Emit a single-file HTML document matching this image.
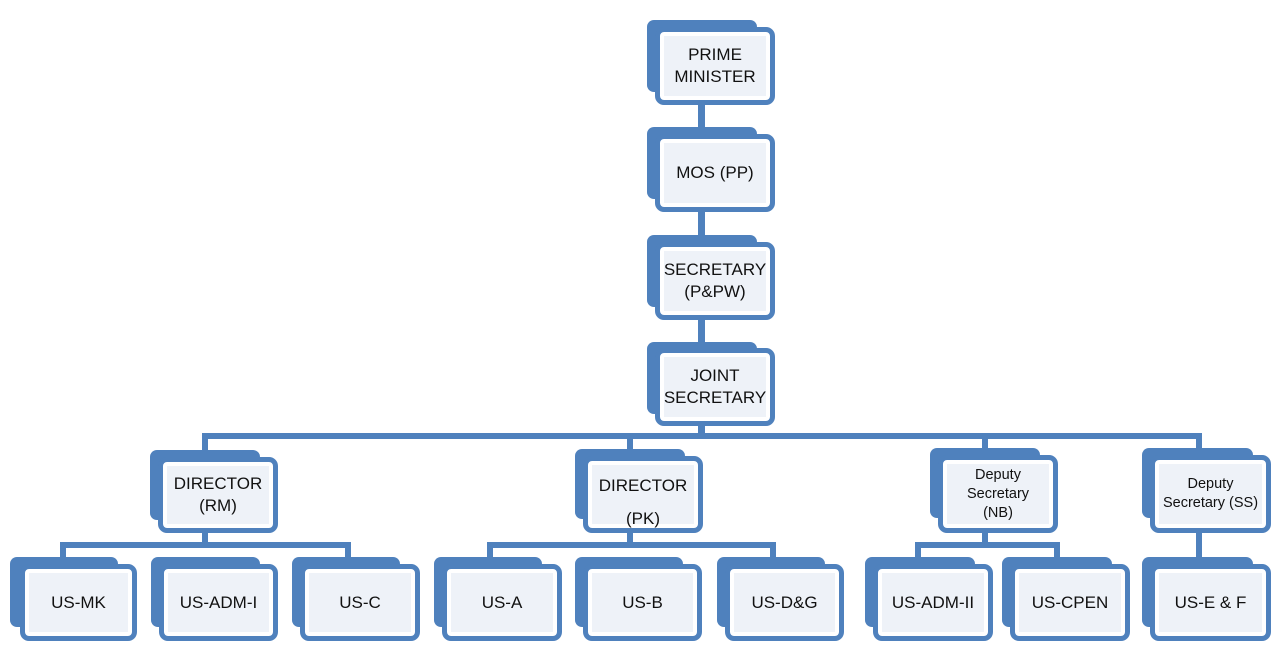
<!DOCTYPE html>
<html><head><meta charset="utf-8"><style>
html,body{margin:0;padding:0;background:#fff;}
body{width:1271px;height:650px;position:relative;overflow:hidden;font-family:"Liberation Sans",sans-serif;}
.b{position:absolute;background:#4f81bd;border-radius:7px;}
.f{position:absolute;box-sizing:border-box;border:5px solid #4f81bd;border-radius:9px;background:#eef2f8;box-shadow:inset 0 0 0 4px #fff;display:flex;align-items:center;justify-content:center;text-align:center;font-size:17px;line-height:22px;color:#111;}
.s{font-size:14.5px;line-height:19px;}
.l{position:absolute;background:#4f81bd;}
</style></head><body>
<!-- connectors -->
<div class="l" style="left:698px;top:100px;width:7px;height:30px"></div>
<div class="l" style="left:698px;top:208px;width:7px;height:30px"></div>
<div class="l" style="left:698px;top:316px;width:7px;height:30px"></div>
<div class="l" style="left:698px;top:420px;width:7px;height:16px"></div>
<div class="l" style="left:202px;top:433px;width:1000px;height:6px"></div>
<div class="l" style="left:202px;top:433px;width:6px;height:18px"></div>
<div class="l" style="left:627px;top:433px;width:6px;height:16px"></div>
<div class="l" style="left:982px;top:433px;width:6px;height:16px"></div>
<div class="l" style="left:1196px;top:433px;width:6px;height:16px"></div>

<div class="l" style="left:202px;top:528px;width:6px;height:20px"></div>
<div class="l" style="left:60px;top:542px;width:291px;height:6px"></div>
<div class="l" style="left:60px;top:542px;width:6px;height:16px"></div>
<div class="l" style="left:345px;top:542px;width:6px;height:16px"></div>

<div class="l" style="left:627px;top:528px;width:6px;height:20px"></div>
<div class="l" style="left:487px;top:542px;width:289px;height:6px"></div>
<div class="l" style="left:487px;top:542px;width:6px;height:16px"></div>
<div class="l" style="left:770px;top:542px;width:6px;height:16px"></div>

<div class="l" style="left:982px;top:528px;width:6px;height:20px"></div>
<div class="l" style="left:915px;top:542px;width:145px;height:6px"></div>
<div class="l" style="left:915px;top:542px;width:6px;height:16px"></div>
<div class="l" style="left:1054px;top:542px;width:6px;height:16px"></div>

<div class="l" style="left:1196px;top:528px;width:6px;height:32px"></div>

<!-- top chain -->
<div class="b" style="left:647px;top:20px;width:110px;height:72px"></div>
<div class="f" style="left:655px;top:27px;width:120px;height:78px">PRIME<br>MINISTER</div>
<div class="b" style="left:647px;top:127px;width:110px;height:72px"></div>
<div class="f" style="left:655px;top:134px;width:120px;height:78px">MOS (PP)</div>
<div class="b" style="left:647px;top:235px;width:110px;height:72px"></div>
<div class="f" style="left:655px;top:242px;width:120px;height:78px">SECRETARY<br>(P&amp;PW)</div>
<div class="b" style="left:647px;top:342px;width:110px;height:72px"></div>
<div class="f" style="left:655px;top:348px;width:120px;height:78px">JOINT<br>SECRETARY</div>

<!-- level 2 -->
<div class="b" style="left:150px;top:450px;width:110px;height:70px"></div>
<div class="f" style="left:158px;top:457px;width:120px;height:76px">DIRECTOR<br>(RM)</div>
<div class="b" style="left:575px;top:449px;width:110px;height:70px"></div>
<div class="f" style="left:583px;top:456px;width:120px;height:77px;align-items:flex-start;padding-top:8px;line-height:33px">DIRECTOR<br>(PK)</div>
<div class="b" style="left:930px;top:448px;width:110px;height:70px"></div>
<div class="f s" style="left:938px;top:455px;width:120px;height:78px">Deputy<br>Secretary<br>(NB)</div>
<div class="b" style="left:1142px;top:448px;width:111px;height:70px"></div>
<div class="f s" style="left:1150px;top:455px;width:121px;height:78px">Deputy<br>Secretary (SS)</div>

<!-- level 3 -->
<div class="b" style="left:10px;top:557px;width:108px;height:70px"></div>
<div class="f" style="left:20px;top:564px;width:117px;height:77px">US-MK</div>
<div class="b" style="left:151px;top:557px;width:109px;height:70px"></div>
<div class="f" style="left:159px;top:564px;width:119px;height:77px">US-ADM-I</div>
<div class="b" style="left:292px;top:557px;width:108px;height:70px"></div>
<div class="f" style="left:300px;top:564px;width:120px;height:77px">US-C</div>
<div class="b" style="left:434px;top:557px;width:108px;height:70px"></div>
<div class="f" style="left:442px;top:564px;width:120px;height:77px">US-A</div>
<div class="b" style="left:575px;top:557px;width:108px;height:70px"></div>
<div class="f" style="left:583px;top:564px;width:119px;height:77px">US-B</div>
<div class="b" style="left:717px;top:557px;width:108px;height:70px"></div>
<div class="f" style="left:725px;top:564px;width:119px;height:77px">US-D&amp;G</div>
<div class="b" style="left:865px;top:557px;width:110px;height:70px"></div>
<div class="f" style="left:873px;top:564px;width:120px;height:77px">US-ADM-II</div>
<div class="b" style="left:1002px;top:557px;width:110px;height:70px"></div>
<div class="f" style="left:1010px;top:564px;width:120px;height:77px">US-CPEN</div>
<div class="b" style="left:1142px;top:557px;width:111px;height:70px"></div>
<div class="f" style="left:1150px;top:564px;width:121px;height:77px">US-E &amp; F</div>
</body></html>
